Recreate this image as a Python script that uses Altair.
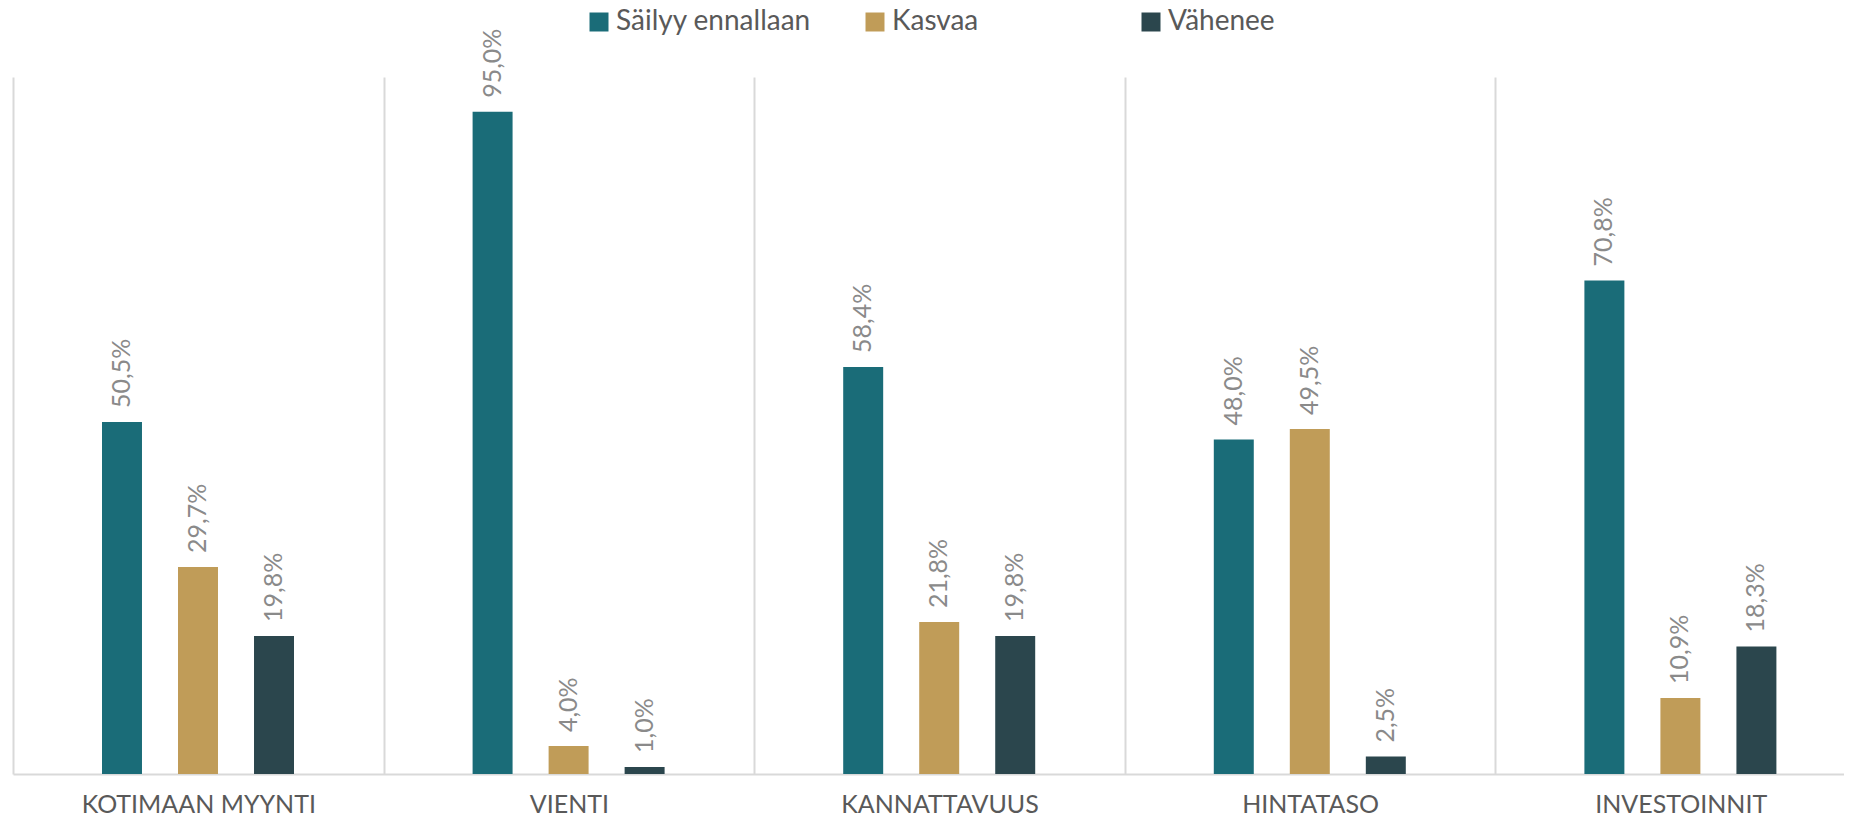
import altair as alt
import pandas as pd

categories = ["KOTIMAAN MYYNTI", "VIENTI", "KANNATTAVUUS", "HINTATASO", "INVESTOINNIT"]
series = ["Säilyy ennallaan", "Kasvaa", "Vähenee"]
colors = ["#1A6C78", "#C09C58", "#2B464D"]

sailyy = [50.5, 95.0, 58.4, 48.0, 70.8]
kasvaa = [29.7, 4.0, 21.8, 49.5, 10.9]
vahenee = [19.8, 1.0, 19.8, 2.5, 18.3]

rows = []
for s, vals in zip(series, [sailyy, kasvaa, vahenee]):
    for c, v in zip(categories, vals):
        rows.append({"category": c, "series": s, "value": v,
                     "label": f"{v:.1f}".replace(".", ",") + "%"})
df = pd.DataFrame(rows)

FONT = "Lato"

x_enc = alt.X(
    "category:N", sort=categories,
    scale=alt.Scale(range=[0, 1853], paddingInner=0, paddingOuter=0),
    axis=alt.Axis(title=None, labelAngle=0, ticks=False, grid=True, tickBand="extent",
                  gridColor="#D9D9D9", gridWidth=2, domainColor="#D9D9D9", domainWidth=2,
                  labelFont=FONT, labelFontSize=25, labelColor="#595959", labelPadding=18,
                  labelLimit=0),
)
xoff_enc = alt.XOffset("series:N", sort=series,
                       scale=alt.Scale(range=[89, 281], paddingInner=0.474, paddingOuter=0))
y_enc = alt.Y("value:Q", scale=alt.Scale(domain=[0, 100]), axis=None)

base = alt.Chart(df)

bars = base.mark_bar().encode(
    x=x_enc, xOffset=xoff_enc, y=y_enc,
    color=alt.Color("series:N", sort=series,
                    scale=alt.Scale(domain=series, range=colors),
                    legend=alt.Legend(title=None, orient="none", legendX=572, legendY=-69,
                                      direction="horizontal", columns=3, symbolType="square",
                                      symbolSize=361, symbolStrokeWidth=0, labelFont=FONT,
                                      labelFontSize=28, labelColor="#595959", columnPadding=50,
                                      gridAlign="all", labelOffset=3, labelLimit=0)),
)

labels = base.mark_text(angle=270, align="left", baseline="middle", dx=14,
                        font=FONT, fontSize=25, color="#8A8A8A").encode(
    x=x_enc, xOffset=xoff_enc, y=y_enc, text="label:N"
)

chart = alt.layer(bars, labels).properties(
    width=1831, height=697,
    padding={"left": 5, "top": 69, "right": 0, "bottom": 50},
    autosize=alt.AutoSizeParams(type="none"),
).configure_view(stroke=None)

chart.save("out.html", embed_options={"renderer": "svg", "actions": False})
